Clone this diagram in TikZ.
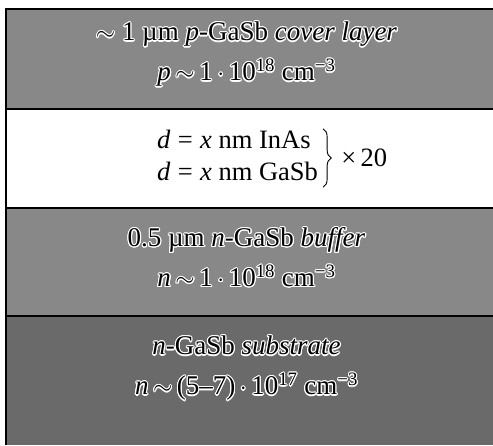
\documentclass[tikz,border=0pt]{standalone}
\usepackage{fontspec}
\setmainfont{Liberation Serif}
\usepackage{contour}
\contourlength{1.1pt}
\contournumber{16}
\usetikzlibrary{decorations.pathreplacing}
\definecolor{layergray}{HTML}{888888}
\definecolor{subgray}{HTML}{6A6A6A}
\tikzset{
  edge line/.style={line width=2pt, black},
  layertext/.style={align=center, font=\fontsize{27}{40}\selectfont, inner sep=0pt},
  midtext/.style={font=\fontsize{26.5}{32}\selectfont, inner sep=0pt},
  midbrace/.style={decorate, decoration={brace, amplitude=8pt}, line width=0.9pt},
}
\newcommand{\hl}[1]{\contour{white}{#1}}
\begin{document}
\begin{tikzpicture}[x=1pt,y=1pt]
\useasboundingbox (0,0) rectangle (493,445);
% layers
\fill[layergray] (6,336) rectangle (493,435.5);
\fill[white] (6,237) rectangle (493,336);
\fill[layergray] (6,129) rectangle (493,237);
\fill[subgray] (6,0) rectangle (493,129);
% borders
\draw[edge line] (6,0) -- (6,435.5) -- (493,435.5);
\draw[edge line] (6,336) -- (493,336);
\draw[edge line] (6,237) -- (493,237);
\draw[edge line] (6,129) -- (493,129);
% cover layer
\node[layertext] (cover) at (246.5,390) {\hl{$\sim$ 1 µm \textit{p}-GaSb \textit{cover layer}}\\\hl{\textit{p}\,$\sim$\,1\,$\cdot$\,10\textsuperscript{18} cm\textsuperscript{−3}}};
% superlattice
\node[midtext, anchor=west] (sl) at (157,287) {\begin{tabular}{@{}l@{}}\textit{d}\;=\;\textit{x} nm InAs\\\textit{d}\;=\;\textit{x} nm GaSb\end{tabular}};
\draw[midbrace] ([xshift=5pt,yshift=-3pt]sl.north east) -- ([xshift=5pt,yshift=3pt]sl.south east);
\node[midtext, anchor=west] (times) at ([xshift=23pt]sl.east) {×\,20};
% buffer
\node[layertext] (buffer) at (246.5,187) {\hl{0.5 µm \textit{n}-GaSb \textit{buffer}}\\\hl{\textit{n}\,$\sim$\,1\,$\cdot$\,10\textsuperscript{18} cm\textsuperscript{−3}}};
% substrate
\node[layertext] (substrate) at (246.5,76) {\hl{\textit{n}-GaSb \textit{substrate}}\\\hl{\textit{n}\,$\sim$\,(5–7)\,$\cdot$\,10\textsuperscript{17} cm\textsuperscript{−3}}};
\end{tikzpicture}
\end{document}
